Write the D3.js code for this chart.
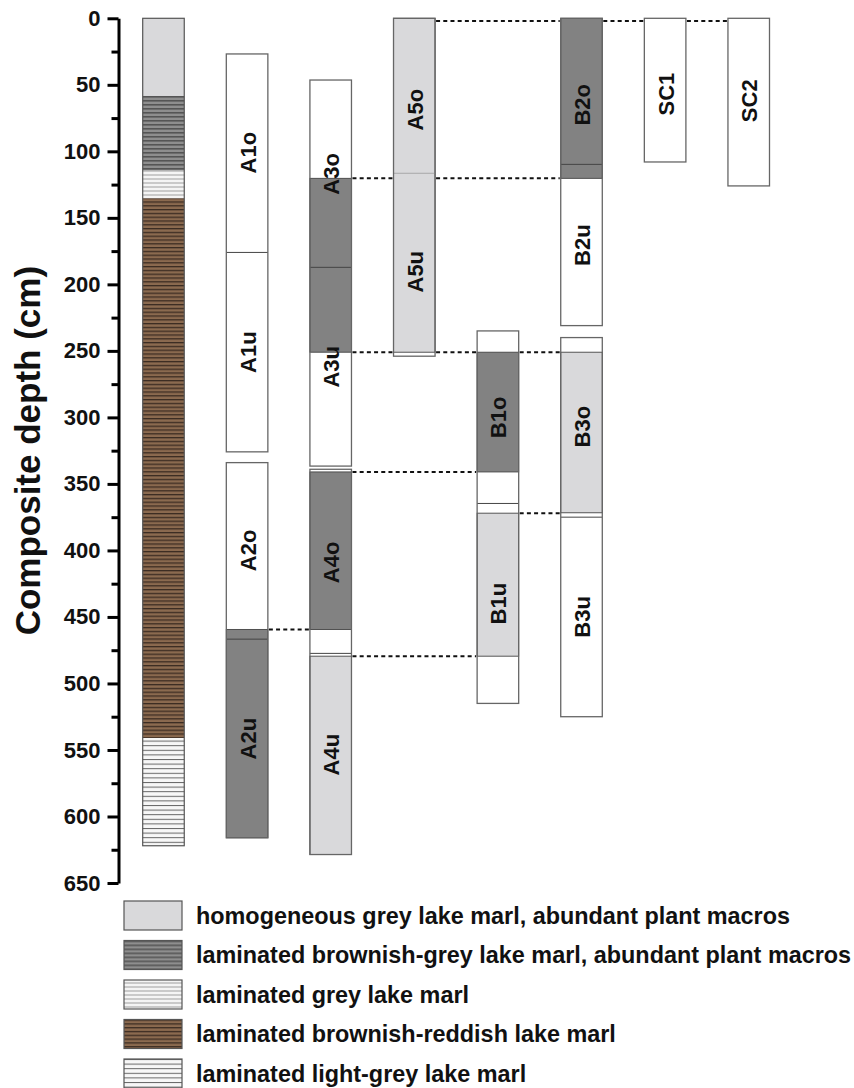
<!DOCTYPE html>
<html>
<head>
<meta charset="utf-8">
<script src="https://cdn.jsdelivr.net/npm/d3@7"></script>
<style>
  body { margin: 0; background: #fff; }
  svg { display: block; }
  text { font-family: "Liberation Sans", Arial, sans-serif; font-weight: bold; fill: #111; }
</style>
</head>
<body>
<svg id="chart" width="854" height="1088"></svg>
<script>
// ---- data (depths in cm) ----
const columns = ["log", "A1/A2", "A3/A4", "A5", "B1", "B2/B3", "SC1", "SC2"];
const depthTicks = d3.range(0, 651, 50);
const minorTicks = d3.range(25, 650, 50);

// composite lithology log
const lithoUnits = [
  { top: 0,     bottom: 58.4,  type: "homog" },
  { top: 58.4,  bottom: 114.6, type: "brownGrey" },
  { top: 114.6, bottom: 135.3, type: "grey" },
  { top: 135.3, bottom: 541,   type: "brownRed" },
  { top: 541,   bottom: 622,   type: "lightGrey" }
];

// core drives (outer extent)
const cores = [
  { col: "A1/A2", top: 26.8,  bottom: 325.9 },
  { col: "A1/A2", top: 334,   bottom: 616 },
  { col: "A3/A4", top: 46.4,  bottom: 336.6 },
  { col: "A3/A4", top: 339,   bottom: 628.6 },
  { col: "A5",    top: 0,     bottom: 254 },
  { col: "B1",    top: 235,   bottom: 515 },
  { col: "B2/B3", top: 0,     bottom: 231 },
  { col: "B2/B3", top: 240,   bottom: 525 },
  { col: "SC1",   top: 0,     bottom: 108 },
  { col: "SC2",   top: 0,     bottom: 126 }
];

// facies intervals inside the drives
const coreFacies = [
  { col: "A1/A2", top: 459.4, bottom: 616,   facies: "dark" },
  { col: "A3/A4", top: 120.3, bottom: 251,   facies: "dark" },
  { col: "A3/A4", top: 341,   bottom: 459.4, facies: "dark" },
  { col: "A3/A4", top: 479.5, bottom: 628.6, facies: "light" },
  { col: "A5",    top: 0,     bottom: 251,   facies: "light" },
  { col: "B1",    top: 251,   bottom: 341,   facies: "dark" },
  { col: "B1",    top: 372,   bottom: 479.5, facies: "light" },
  { col: "B2/B3", top: 0,     bottom: 120.3, facies: "dark" },
  { col: "B2/B3", top: 251,   bottom: 371.7, facies: "light" }
];

// section boundaries inside the drives
const sectionBreaks = [
  { col: "A1/A2", depth: 176 },
  { col: "A1/A2", depth: 466.7 },
  { col: "A3/A4", depth: 187.2 },
  { col: "A3/A4", depth: 477.4 },
  { col: "A5",    depth: 116.5, faint: true },
  { col: "B1",    depth: 364.7 },
  { col: "B2/B3", depth: 109.8 },
  { col: "B2/B3", depth: 375 }
];

// section names and the depth of their label
const sections = [
  { col: "A1/A2", name: "A1o", at: 101 },
  { col: "A1/A2", name: "A1u", at: 251 },
  { col: "A1/A2", name: "A2o", at: 400 },
  { col: "A1/A2", name: "A2u", at: 541.5 },
  { col: "A3/A4", name: "A3o", at: 117 },
  { col: "A3/A4", name: "A3u", at: 262 },
  { col: "A3/A4", name: "A4o", at: 409 },
  { col: "A3/A4", name: "A4u", at: 553.5 },
  { col: "A5",    name: "A5o", at: 68.7 },
  { col: "A5",    name: "A5u", at: 190.5 },
  { col: "B1",    name: "B1o", at: 300 },
  { col: "B1",    name: "B1u", at: 440 },
  { col: "B2/B3", name: "B2o", at: 65 },
  { col: "B2/B3", name: "B2u", at: 170.5 },
  { col: "B2/B3", name: "B3o", at: 307 },
  { col: "B2/B3", name: "B3u", at: 450 },
  { col: "SC1",   name: "SC1", at: 57 },
  { col: "SC2",   name: "SC2", at: 62 }
];

// correlation tie points between neighbouring drives
const tiePoints = [
  { depth: 2,     from: "A5",    to: "B2/B3" },
  { depth: 2,     from: "B2/B3", to: "SC1" },
  { depth: 2,     from: "SC1",   to: "SC2" },
  { depth: 120.3, from: "A3/A4", to: "A5" },
  { depth: 120.3, from: "A5",    to: "B2/B3" },
  { depth: 251,   from: "A3/A4", to: "A5" },
  { depth: 251,   from: "A5",    to: "B1" },
  { depth: 251,   from: "B1",    to: "B2/B3" },
  { depth: 341,   from: "A3/A4", to: "B1" },
  { depth: 372,   from: "B1",    to: "B2/B3" },
  { depth: 459.4, from: "A1/A2", to: "A3/A4" },
  { depth: 479.5, from: "A3/A4", to: "B1" }
];

const legendTypes = ["homog", "brownGrey", "grey", "brownRed", "lightGrey"];
const legendLabels = [
  "homogeneous grey lake marl, abundant plant macros",
  "laminated brownish-grey lake marl, abundant plant macros",
  "laminated grey lake marl",
  "laminated brownish-reddish lake marl",
  "laminated light-grey lake marl"
];

// ---- drawing ----
const svg = d3.select("#chart");

const y = d3.scaleLinear().domain([0, 650]).range([18.3, 883]);
const x = d3.scaleBand().domain(columns).range([142.7, 769.5]).paddingInner(0.503).paddingOuter(0);
const bw = x.bandwidth();

const faciesFill = { dark: "#828282", light: "#d9d9db" };

// lamination patterns
const defs = svg.append("defs");
const patternSpec = {
  homog:     { bg: "#d9d9db", line: null,      h: 4,   lw: 0 },
  brownGrey: { bg: "#8e8e8e", line: "#555555", h: 4,   lw: 1.6 },
  grey:      { bg: "#c9c9c9", line: "#f4f4f4", h: 4,   lw: 2 },
  brownRed:  { bg: "#8b6a4f", line: "#3b2c22", h: 3.8, lw: 1.3 },
  lightGrey: { bg: "#f7f7f7", line: "#666666", h: 4.6, lw: 1 }
};
Object.entries(patternSpec).forEach(([id, s]) => {
  const p = defs.append("pattern").attr("id", "pat-" + id)
    .attr("patternUnits", "userSpaceOnUse").attr("width", 200).attr("height", s.h);
  p.append("rect").attr("width", 200).attr("height", s.h).attr("fill", s.bg);
  if (s.line) p.append("rect").attr("y", 0).attr("width", 200).attr("height", s.lw).attr("fill", s.line);
});

// depth axis
const axisG = svg.append("g").attr("transform", `translate(${118.5},0)`);
axisG.call(d3.axisLeft(y).tickValues(depthTicks).tickSize(11).tickPadding(7).tickSizeOuter(0));
axisG.select(".domain").attr("stroke", "#000").attr("stroke-width", 3);
axisG.selectAll(".tick line").attr("stroke", "#000").attr("stroke-width", 3);
axisG.selectAll(".tick text").attr("font-size", 22).attr("font-family", '"Liberation Sans", Arial, sans-serif').attr("font-weight", "bold").attr("fill", "#111");

const minorG = svg.append("g").attr("transform", `translate(${118.5},0)`);
minorG.call(d3.axisLeft(y).tickValues(minorTicks).tickSize(7).tickFormat(""));
minorG.select(".domain").remove();
minorG.selectAll(".tick line").attr("stroke", "#000").attr("stroke-width", 3);

svg.append("text")
  .attr("transform", `translate(40,${(y(0) + y(650)) / 2}) rotate(-90)`)
  .attr("text-anchor", "middle")
  .attr("font-size", 35)
  .text("Composite depth (cm)");

// lithology log
const logG = svg.append("g");
logG.selectAll("rect.unit").data(lithoUnits).join("rect")
  .attr("class", "unit")
  .attr("x", x("log")).attr("width", bw)
  .attr("y", d => y(d.top)).attr("height", d => y(d.bottom) - y(d.top))
  .attr("fill", d => `url(#pat-${d.type})`);
logG.append("rect")
  .attr("x", x("log")).attr("width", bw)
  .attr("y", y(0)).attr("height", y(622) - y(0))
  .attr("fill", "none").attr("stroke", "#555").attr("stroke-width", 1.2);

// correlation lines
svg.append("g").selectAll("line").data(tiePoints).join("line")
  .attr("x1", d => x(d.from) + bw + 1).attr("x2", d => x(d.to) - 1)
  .attr("y1", d => y(d.depth)).attr("y2", d => y(d.depth))
  .attr("stroke", "#111").attr("stroke-width", 2).attr("stroke-dasharray", "4,3.2");

// core drives
const coreG = svg.append("g");
coreG.selectAll("rect.core").data(cores).join("rect")
  .attr("class", "core")
  .attr("x", d => x(d.col)).attr("width", bw)
  .attr("y", d => y(d.top)).attr("height", d => y(d.bottom) - y(d.top))
  .attr("fill", "#fff");

coreG.selectAll("rect.facies").data(coreFacies).join("rect")
  .attr("class", "facies")
  .attr("x", d => x(d.col)).attr("width", bw)
  .attr("y", d => y(d.top)).attr("height", d => y(d.bottom) - y(d.top))
  .attr("fill", d => faciesFill[d.facies])
  .attr("stroke", "#444").attr("stroke-width", 0.9);

coreG.selectAll("line.break").data(sectionBreaks).join("line")
  .attr("class", "break")
  .attr("x1", d => x(d.col)).attr("x2", d => x(d.col) + bw)
  .attr("y1", d => y(d.depth)).attr("y2", d => y(d.depth))
  .attr("stroke", d => d.faint ? "#a8a8a8" : "#444").attr("stroke-width", 1);

coreG.selectAll("rect.outline").data(cores).join("rect")
  .attr("class", "outline")
  .attr("x", d => x(d.col)).attr("width", bw)
  .attr("y", d => y(d.top)).attr("height", d => y(d.bottom) - y(d.top))
  .attr("fill", "none").attr("stroke", "#666").attr("stroke-width", 1.3);

// section labels
svg.append("g").selectAll("text").data(sections).join("text")
  .attr("transform", d => `translate(${x(d.col) + bw / 2 + 1},${y(d.at)}) rotate(-90)`)
  .attr("text-anchor", "middle")
  .attr("dominant-baseline", "central")
  .attr("font-size", 22)
  .text(d => d.name);

// legend
const legend = svg.append("g").selectAll("g").data(legendTypes).join("g")
  .attr("transform", (d, i) => `translate(124,${901 + i * 39.5})`);
legend.append("rect")
  .attr("width", 58).attr("height", 29)
  .attr("fill", d => `url(#pat-${d})`)
  .attr("stroke", "#555").attr("stroke-width", 1.2);
legend.append("text")
  .attr("x", 72).attr("y", 14.5)
  .attr("dominant-baseline", "central")
  .attr("font-size", 23.4)
  .text((d, i) => legendLabels[i]);
</script>
</body>
</html>
